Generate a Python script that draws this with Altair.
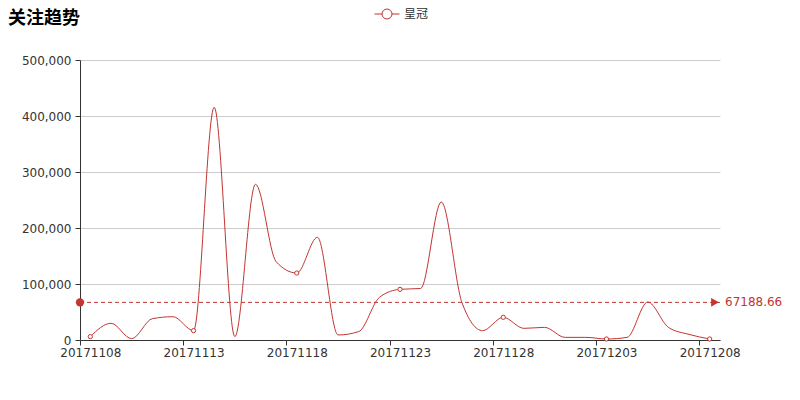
import json
import altair as alt
import pandas as pd

DATES = ["20171108", "20171109", "20171110", "20171111", "20171112", "20171113",
         "20171114", "20171115", "20171116", "20171117", "20171118", "20171119",
         "20171120", "20171121", "20171122", "20171123", "20171124", "20171125",
         "20171126", "20171127", "20171128", "20171129", "20171130", "20171201",
         "20171202", "20171203", "20171204", "20171205", "20171206", "20171207",
         "20171208"]
VALUES = [6000, 29800, 2400, 38000, 41600, 16700, 415500, 6000, 278000, 139800,
          119600, 183400, 9000, 15000, 76000, 90500, 92000, 246400, 67000, 16700,
          40500, 20800, 22600, 4700, 4700, 1800, 4700, 67800, 22600, 10000, 1800]
SERIES = "皇冠"
MEAN = 67188.66
Y_TICKS = [0, 100000, 200000, 300000, 400000, 500000]

RED = "#c23531"
FONT = "DejaVu Sans"
CJK = "Noto Sans CJK SC"

df = pd.DataFrame({"idx": range(len(DATES)), "date": DATES, "value": VALUES})
df["series"] = SERIES
n = len(DATES)

label_expr = json.dumps(DATES) + "[round(datum.value + 0.5)]"
x_scale = alt.Scale(domain=[-0.5, n - 0.5], nice=False, zero=False)
y_scale = alt.Scale(domain=[0, 500000], nice=False)

x_axis = alt.X("idx:Q", scale=x_scale, title=None,
               axis=alt.Axis(values=[i - 0.5 for i in range(0, n, 5)],
                             labelExpr=label_expr, labelOffset=640 / n / 2,
                             labelFlush=False, labelOverlap=False, grid=False,
                             tickSize=5, labelPadding=2, labelFontSize=12,
                             labelFont=FONT, labelColor="#333", domainColor="#333",
                             tickColor="#333"))
y_axis = alt.Y("value:Q", scale=y_scale, title=None,
               axis=alt.Axis(values=Y_TICKS, format=",d", tickSize=5, labelPadding=4,
                             labelFontSize=12, labelFont=FONT, labelColor="#333",
                             domainColor="#333", tickColor="#333", gridColor="#ccc"))

legend_icon = ("M-1,0 L-0.4,0 M0.4,0 L1,0 M-0.4,0 "
               "A0.4,0.4 0 1 1 0.4,0 A0.4,0.4 0 1 1 -0.4,0 Z")

line = alt.Chart(df).mark_line(interpolate="monotone", strokeWidth=1).encode(
    x=x_axis,
    y=y_axis,
    color=alt.Color("series:N", scale=alt.Scale(range=[RED]), title=None,
                    legend=alt.Legend(orient="none", legendX=294, legendY=-59,
                                      symbolType=legend_icon, symbolSize=625,
                                      symbolStrokeWidth=1, symbolFillColor="white",
                                      symbolStrokeColor=RED, labelFont=CJK,
                                      labelFontSize=12, labelColor="#333",
                                      labelOffset=4, padding=0))
)

points = alt.Chart(df).transform_filter("datum.idx % 5 == 0").mark_point(
    shape="circle", filled=True, fill="white", stroke=RED, strokeWidth=1,
    size=18, opacity=1
).encode(x="idx:Q", y="value:Q")

mean_df = pd.DataFrame({"x0": [-0.5], "x1": [n - 0.5], "mean": [MEAN],
                        "label": [f"{MEAN}"]})

mean_rule = alt.Chart(mean_df).mark_rule(color=RED, strokeWidth=1,
                                         strokeDash=[4, 3]).encode(
    x="x0:Q", x2="x1:Q", y="mean:Q"
)
mean_start = alt.Chart(mean_df).mark_point(shape="circle", filled=True, color=RED,
                                           size=70, opacity=1).encode(
    x="x0:Q", y="mean:Q"
)
mean_end = alt.Chart(mean_df).mark_point(shape="triangle-right", filled=True,
                                         color=RED, size=80, opacity=1).encode(
    x="x1:Q", y="mean:Q", xOffset=alt.value(-5)
)
mean_text = alt.Chart(mean_df).mark_text(align="left", baseline="middle", dx=5,
                                         color=RED, font=FONT, fontSize=12).encode(
    x="x1:Q", y="mean:Q", text="label:N"
)

chart = alt.layer(line, mean_rule, points, mean_start, mean_end, mean_text).properties(
    width=640, height=280,
    autosize=alt.AutoSizeParams(type="none"),
    padding={"left": 72, "top": 52, "right": 72, "bottom": 48},
    title=alt.TitleParams("关注趋势", anchor="start", frame="group", dx=-72, dy=27,
                          font=CJK, fontSize=18, fontWeight="bold", color="#000",
                          offset=0),
).configure_view(stroke=None)

chart.save("out.html", embed_options={"renderer": "svg", "actions": False})
